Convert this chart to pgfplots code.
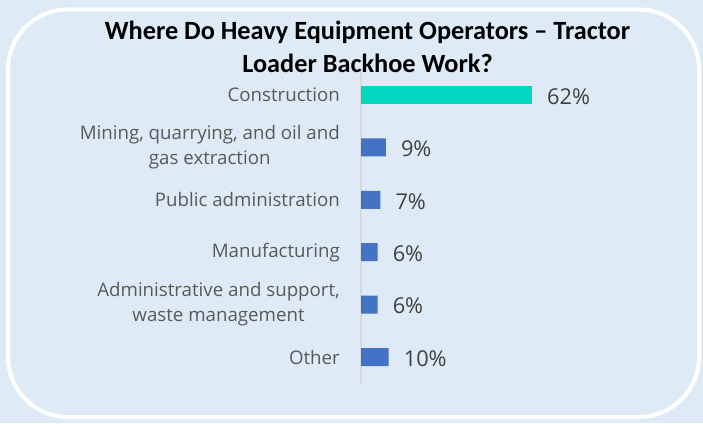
\documentclass[border=0pt]{standalone}
\usepackage{pgfplots}
\pgfplotsset{compat=1.18}
\usepackage{fontspec}
\setmainfont{Open Sans}
\newfontfamily\titlefont{Carlito}
\definecolor{bgblue}{HTML}{DEEBF7}
\definecolor{barblue}{HTML}{4472C4}
\definecolor{barteal}{HTML}{00D9C0}
\definecolor{labelgray}{HTML}{595959}
\definecolor{valgray}{HTML}{404040}
\definecolor{linegray}{HTML}{D9D9D9}
\begin{document}
\begin{tikzpicture}
\fill[bgblue] (0pt,0pt) rectangle (703pt,423pt);
\path[use as bounding box] (0pt,0pt) rectangle (703pt,423pt);
\draw[white, line width=4pt, rounded corners=60pt] (8pt,6pt) rectangle (699pt,413.5pt);
\begin{axis}[
  at={(361pt,39.8pt)}, anchor=south west,
  scale only axis,
  width=275.8pt, height=314.4pt,
  xmin=0, xmax=100,
  ymin=-0.5, ymax=5.5,
  y dir=reverse,
  hide x axis,
  axis y line*=left,
  axis line style={-, draw=linegray, line width=1.5pt},
  xbar, bar width=18pt, bar shift=0pt,
  ytick={0,1,2,3,4,5},
  yticklabels={Construction, {Mining, quarrying, and oil and\\gas extraction}, Public administration, Manufacturing, {Administrative and support,\\waste management}, Other},
  ytick style={draw=none},
  major tick length=0pt,
  yticklabel style={align=center, inner sep=0pt, xshift=-21pt, text=labelgray, font=\fontsize{18.7}{25}\selectfont},
  point meta=x,
  nodes near coords={\pgfmathprintnumber[assume math mode=true]{\pgfplotspointmeta}\%},
  every node near coord/.append style={anchor=west, inner sep=0pt, xshift=15pt, yshift=-1.5pt, text=valgray, font=\fontsize{21.8}{26}\selectfont},
  clip=false,
]
\addplot[fill=barteal, draw=none] coordinates {(62,0)};
\addplot[fill=barblue, draw=none] coordinates {(9,1) (7,2) (6,3) (6,4) (10,5)};
\end{axis}
\node[anchor=base, inner sep=0pt, font=\titlefont\bfseries\fontsize{26.3}{30}\selectfont] at (367.5pt,383pt) {Where Do Heavy Equipment Operators – Tractor};
\node[anchor=base, inner sep=0pt, font=\titlefont\bfseries\fontsize{26.3}{30}\selectfont] at (367.5pt,350pt) {Loader Backhoe Work?};
\end{tikzpicture}
\end{document}
